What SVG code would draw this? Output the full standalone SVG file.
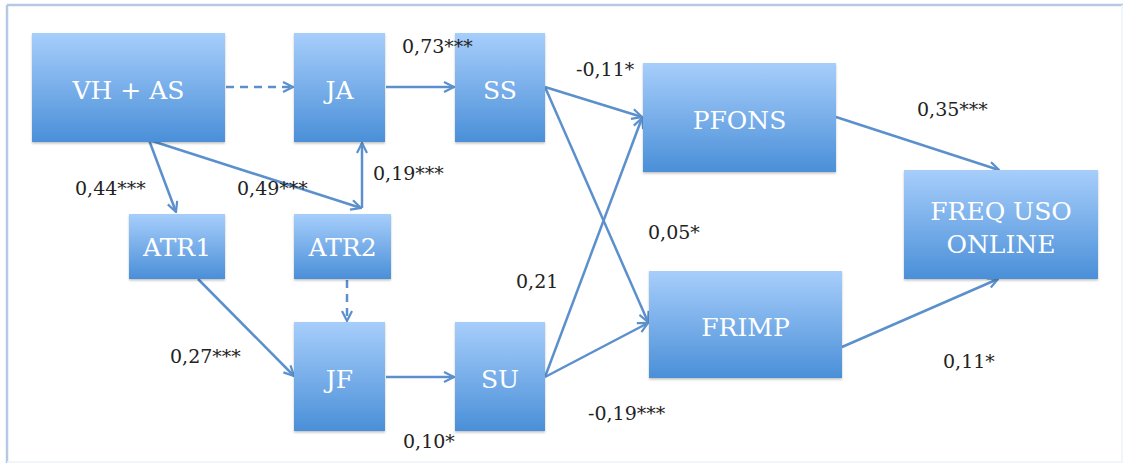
<svg xmlns="http://www.w3.org/2000/svg" width="1123" height="463" viewBox="0 0 1123 463">
<defs>
<linearGradient id="g" x1="0" y1="0" x2="0" y2="1">
<stop offset="0" stop-color="#a7cefb"/>
<stop offset="1" stop-color="#4a8fd8"/>
</linearGradient>
<filter id="sh" x="-10%" y="-10%" width="120%" height="130%">
<feDropShadow dx="0" dy="1.5" stdDeviation="1.2" flood-color="#000" flood-opacity="0.25"/>
</filter>
<marker id="ar" viewBox="0 0 12 12" refX="11" refY="6" markerWidth="12" markerHeight="12" markerUnits="userSpaceOnUse" orient="auto">
<path d="M1,1 L11,6 L1,11" fill="none" stroke="#5b90cc" stroke-width="2.2" stroke-linejoin="miter"/>
</marker>
</defs>
<style>
.box{fill:url(#g);filter:url(#sh);}
.t{font-family:'DejaVu Serif',serif;font-size:25px;fill:#ffffff;text-anchor:middle;}
.l{font-family:'DejaVu Serif',serif;font-size:19px;fill:#222222;}
.c{fill:none;stroke:#5b90cc;stroke-width:2.5;marker-end:url(#ar);}
.d{stroke-dasharray:8,6;}
</style>
<rect x="0" y="0" width="1123" height="463" fill="#ffffff"/>
<g id="frame" fill="none">
<line x1="7" y1="5" x2="1123" y2="5" stroke="#b6c9e3" stroke-width="2.5"/>
<line x1="7" y1="5" x2="7" y2="463" stroke="#b6c9e3" stroke-width="2.5"/>
<line x1="7" y1="462" x2="1123" y2="462" stroke="#eef2f9" stroke-width="1.5"/>
<line x1="1122" y1="5" x2="1122" y2="463" stroke="#eef2f9" stroke-width="1.5"/>
</g>
<g id="connectors">
<line class="c d" x1="226" y1="87" x2="293" y2="87"/>
<line class="c" x1="386" y1="87" x2="454" y2="87"/>
<line class="c" x1="149" y1="140" x2="176" y2="212"/>
<line class="c" x1="149" y1="140" x2="361" y2="208"/>
<line class="c" x1="362" y1="208" x2="362" y2="143"/>
<line class="c" x1="198" y1="279" x2="294" y2="376"/>
<line class="c d" x1="347" y1="280" x2="347" y2="321"/>
<line class="c" x1="386" y1="377" x2="454" y2="377"/>
<line class="c" x1="545" y1="87" x2="642" y2="117"/>
<line class="c" x1="545" y1="87" x2="648" y2="322"/>
<line class="c" x1="545" y1="377" x2="642" y2="118"/>
<line class="c" x1="545" y1="377" x2="648" y2="323"/>
<line class="c" x1="836" y1="117" x2="999" y2="170"/>
<line class="c" x1="842" y1="347" x2="998" y2="279"/>
</g>
<g id="nodes">
<g id="n-vhas"><rect class="box" x="32" y="33" width="193" height="109"/><text class="t" x="128.5" y="99">VH + AS</text></g>
<g id="n-ja"><rect class="box" x="294" y="33" width="91" height="109"/><text class="t" x="339.5" y="99">JA</text></g>
<g id="n-ss"><rect class="box" x="455" y="33" width="90" height="109"/><text class="t" x="500" y="99">SS</text></g>
<g id="n-pfons"><rect class="box" x="643" y="63" width="193" height="109"/><text class="t" x="739.5" y="129">PFONS</text></g>
<g id="n-freq"><rect class="box" x="904" y="170" width="194" height="109"/><text class="t" x="1001" y="220">FREQ USO</text><text class="t" x="1001" y="253">ONLINE</text></g>
<g id="n-atr1"><rect class="box" x="129" y="214" width="96" height="65"/><text class="t" x="177" y="256">ATR1</text></g>
<g id="n-atr2"><rect class="box" x="294" y="214" width="97" height="65"/><text class="t" x="342.5" y="256">ATR2</text></g>
<g id="n-jf"><rect class="box" x="294" y="322" width="91" height="109"/><text class="t" x="339.5" y="388">JF</text></g>
<g id="n-su"><rect class="box" x="455" y="322" width="90" height="109"/><text class="t" x="500" y="388">SU</text></g>
<g id="n-frimp"><rect class="box" x="649" y="271" width="193" height="107"/><text class="t" x="745.5" y="336">FRIMP</text></g>
</g>
<g id="labels">
<text class="l" x="402" y="53">0,73***</text>
<text class="l" x="576" y="76">-0,11*</text>
<text class="l" x="917" y="116">0,35***</text>
<text class="l" x="75" y="195">0,44***</text>
<text class="l" x="237" y="195">0,49***</text>
<text class="l" x="373" y="180">0,19***</text>
<text class="l" x="648" y="239">0,05*</text>
<text class="l" x="516" y="288">0,21</text>
<text class="l" x="170" y="363">0,27***</text>
<text class="l" x="943" y="368">0,11*</text>
<text class="l" x="588" y="420">-0,19***</text>
<text class="l" x="403" y="448">0,10*</text>
</g>
</svg>
